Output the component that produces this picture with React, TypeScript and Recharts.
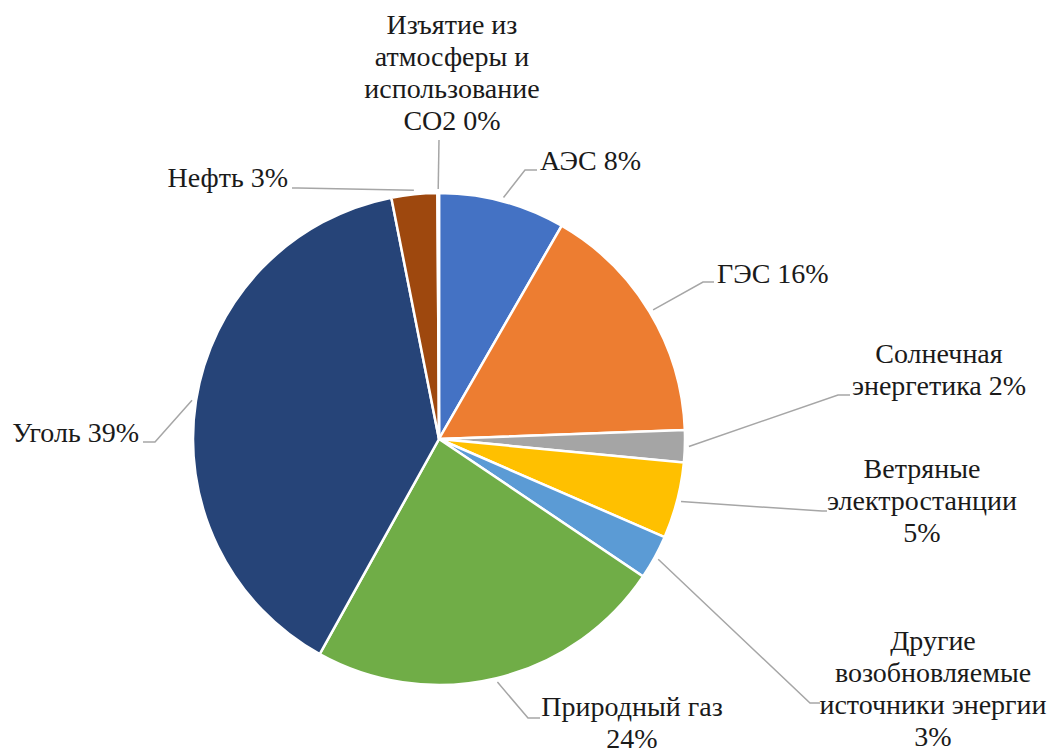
import React from 'react';
import { PieChart, Pie, Cell } from 'recharts';

const categories = [
  'АЭС',
  'ГЭС',
  'Солнечная\nэнергетика',
  'Ветряные\nэлектростанции',
  'Другие\nвозобновляемые\nисточники энергии',
  'Природный газ',
  'Уголь',
  'Нефть',
  'Изъятие из\nатмосферы и\nиспользование\nCO2',
];
const shares = [8.3, 16.1, 2.1, 5.0, 2.9, 23.6, 38.8, 3.0, 0.1];
const colors = ['#4472C4', '#ED7D31', '#A5A5A5', '#FFC000', '#5B9BD5', '#70AD47', '#264478', '#9E480E', '#636363'];

const data = categories.map((name, i) => ({ name, value: shares[i] }));

const CX = 439;
const CY = 439;
const R = 246;
const FONT = "'Liberation Serif', 'Times New Roman', serif";
const FONT_SIZE = 28;
const LINE_H = 32;

type Layout = {
  tx: number; ty: number; anchor: 'start' | 'middle' | 'end'; pctOwnLine: boolean;
  elbow: [number, number]; end: [number, number];
};

// label layout offsets relative to the pie centre
const layouts: Layout[] = [
  { tx: 101, ty: -269, anchor: 'start', pctOwnLine: false, elbow: [86, -269], end: [98, -269] },
  { tx: 278, ty: -156, anchor: 'start', pctOwnLine: false, elbow: [264, -157], end: [275, -157] },
  { tx: 500, ty: -76, anchor: 'middle', pctOwnLine: false, elbow: [399, -44], end: [411, -44] },
  { tx: 483, ty: 39, anchor: 'middle', pctOwnLine: true, elbow: [383, 72], end: [388, 72] },
  { tx: 494, ty: 211, anchor: 'middle', pctOwnLine: true, elbow: [371, 264], end: [381, 264] },
  { tx: 193, ty: 277, anchor: 'middle', pctOwnLine: true, elbow: [89, 279], end: [101, 279] },
  { tx: -300, ty: 3, anchor: 'end', pctOwnLine: false, elbow: [-284, 3], end: [-296, 3] },
  { tx: -151, ty: -252, anchor: 'end', pctOwnLine: false, elbow: [-141, -251], end: [-147, -251] },
  { tx: 13, ty: -405, anchor: 'middle', pctOwnLine: false, elbow: [0, -299], end: [0, -299] },
];

const RAD = Math.PI / 180;

const renderLabel = (props: any) => {
  const { cx, cy, midAngle, outerRadius, percent, index, name } = props;
  const lay = layouts[index];
  if (!lay) return null;
  const sx = cx + Math.cos(-midAngle * RAD) * (outerRadius + 4);
  const sy = cy + Math.sin(-midAngle * RAD) * (outerRadius + 4);
  const pct = `${Math.round(percent * 100)}%`;
  const parts = String(name).split('\n');
  let lines: string[];
  if (lay.pctOwnLine) lines = [...parts, pct];
  else {
    lines = [...parts];
    lines[lines.length - 1] = `${lines[lines.length - 1]} ${pct}`;
  }
  return (
    <g key={`lbl-${index}`}>
      <polyline
        points={`${sx},${sy} ${cx + lay.elbow[0]},${cy + lay.elbow[1]} ${cx + lay.end[0]},${cy + lay.end[1]}`}
        fill="none"
        stroke="#A6A6A6"
        strokeWidth={1.5}
      />
      <text
        x={cx + lay.tx}
        y={cy + lay.ty}
        textAnchor={lay.anchor}
        fontFamily={FONT}
        fontSize={FONT_SIZE}
        fill="#1a1a1a"
      >
        {lines.map((ln, i) => (
          <tspan key={i} x={cx + lay.tx} dy={i === 0 ? 0 : LINE_H}>
            {ln}
          </tspan>
        ))}
      </text>
    </g>
  );
};

export default function App() {
  return (
    <div style={{ position: 'absolute', left: 0, top: 0, width: 1048, height: 749, background: '#fff' }}>
      <PieChart width={1048} height={749} margin={{ top: 0, right: 0, bottom: 0, left: 0 }}>
        <Pie
          data={data}
          dataKey="value"
          nameKey="name"
          cx={CX}
          cy={CY}
          outerRadius={R}
          startAngle={90}
          endAngle={-270}
          stroke="#ffffff"
          strokeWidth={2.5}
          label={renderLabel}
          labelLine={false}
          isAnimationActive={false}
        >
          {data.map((d, i) => (
            <Cell key={d.name} fill={colors[i]} />
          ))}
        </Pie>
      </PieChart>
    </div>
  );
}
